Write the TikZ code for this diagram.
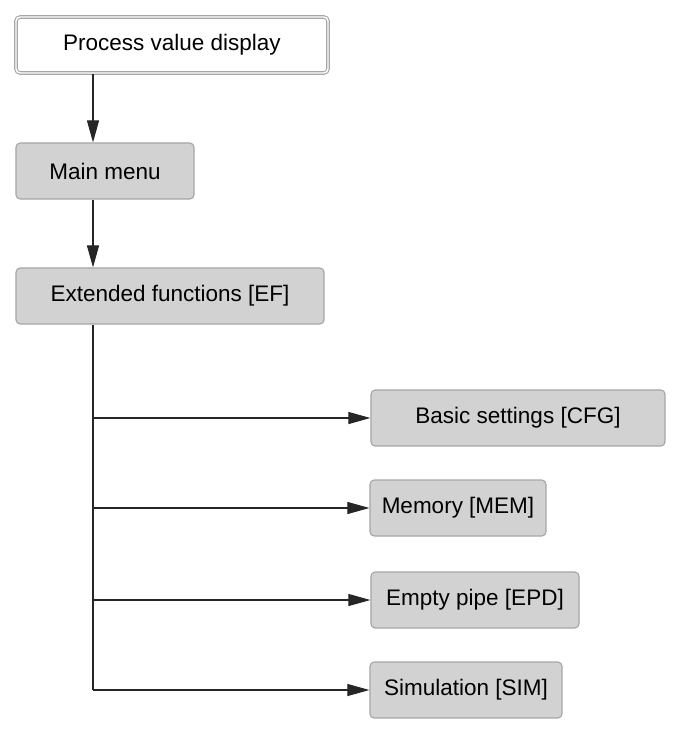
\documentclass[tikz,border=0pt]{standalone}
\usepackage{fontspec}
\setmainfont{Liberation Sans}
\usetikzlibrary{arrows.meta}
\begin{document}
\begin{tikzpicture}[x=0.025cm,y=-0.025cm,
  box/.style={rectangle,rounded corners=3pt,draw=gray!70,fill=gray!35,thick,minimum height=1.4cm,font=\fontsize{16}{19}\selectfont,inner sep=0pt},
  arr/.style={-{Triangle[length=0.55cm,width=0.3cm]},thick,black!85}]
\useasboundingbox (0,0) rectangle (678,731);
% top, menu levels
\node[box,fill=white,double=white,double distance=1pt,minimum width=7.8cm] (pvd) at (172,45) {Process value display};
\node[box,minimum width=4.45cm] (main) at (105,171) {Main menu};
\node[box,minimum width=7.7cm] (ef) at (170,296) {Extended functions [EF]};
% submenus
\node[box,minimum width=7.35cm] (cfg) at (518,418) {Basic settings [CFG]};
\node[box,minimum width=4.4cm] (mem) at (458,508) {Memory [MEM]};
\node[box,minimum width=5.2cm] (epd) at (475,600) {Empty pipe [EPD]};
\node[box,minimum width=4.8cm] (sim) at (466,690) {Simulation [SIM]};
\coordinate (t1) at (93,418);
\coordinate (t2) at (93,508);
\coordinate (t3) at (93,600);
\coordinate (t4) at (93,690);
\draw[arr] (pvd.south -| t1) -- (main.north -| t1);
\draw[arr] (main.south -| t1) -- (ef.north -| t1);
\draw[thick,black!85] (ef.south -| t1) -- (t4);
\draw[arr] (t1) -- (cfg);
\draw[arr] (t2) -- (mem);
\draw[arr] (t3) -- (epd);
\draw[arr] (t4) -- (sim);
\end{tikzpicture}
\end{document}
